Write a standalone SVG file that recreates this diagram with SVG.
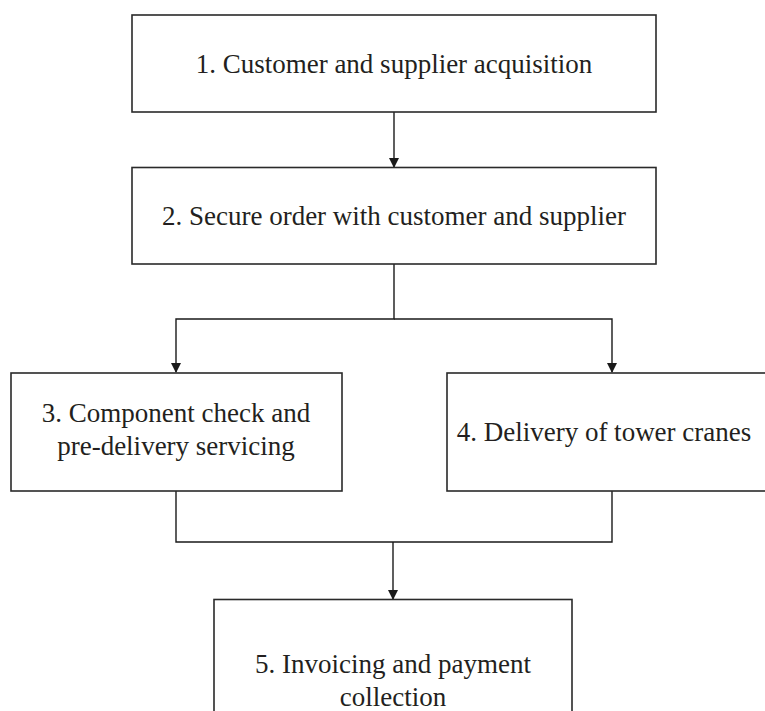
<svg xmlns="http://www.w3.org/2000/svg" width="765" height="711" viewBox="0 0 765 711">
<style>
.box{fill:#fff;stroke:#2a2a2a;stroke-width:1.6}
.t{font-family:"Liberation Serif","Times New Roman",serif;font-size:27px;fill:#231f20;text-anchor:middle}
.c{fill:none;stroke:#1a1a1a;stroke-width:1.4}
</style>
<defs>
<marker id="ah" markerWidth="10" markerHeight="12" refX="9" refY="5" orient="auto" markerUnits="userSpaceOnUse">
<path d="M0,0 L10,5 L0,10 z" fill="#1a1a1a"/>
</marker>
</defs>
<rect width="765" height="711" fill="#fff"/>
<g id="connectors">
<path class="c" d="M394,112 V167" marker-end="url(#ah)"/>
<path class="c" d="M394,264 V319 H176 V372" marker-end="url(#ah)"/>
<path class="c" d="M394,319 H612 V372" marker-end="url(#ah)"/>
<path class="c" d="M176,491 V542 H612 V491"/>
<path class="c" d="M393,542 V599" marker-end="url(#ah)"/>
</g>
<g id="n1"><rect class="box" x="132" y="15" width="524" height="97"/><text class="t" x="394" y="72.5">1. Customer and supplier acquisition</text></g>
<g id="n2"><rect class="box" x="132" y="167.5" width="524" height="96.5"/><text class="t" x="394" y="224.5">2. Secure order with customer and supplier</text></g>
<g id="n3"><rect class="box" x="11" y="373" width="331" height="118"/><text class="t" x="176" y="422">3. Component check and</text><text class="t" x="176" y="455">pre-delivery servicing</text></g>
<g id="n4"><rect class="box" x="447" y="373" width="320" height="118"/><text class="t" x="604" y="441">4. Delivery of tower cranes</text></g>
<g id="n5"><rect class="box" x="214" y="599.5" width="358" height="120"/><text class="t" x="393" y="673">5. Invoicing and payment</text><text class="t" x="393" y="706">collection</text></g>
</svg>
